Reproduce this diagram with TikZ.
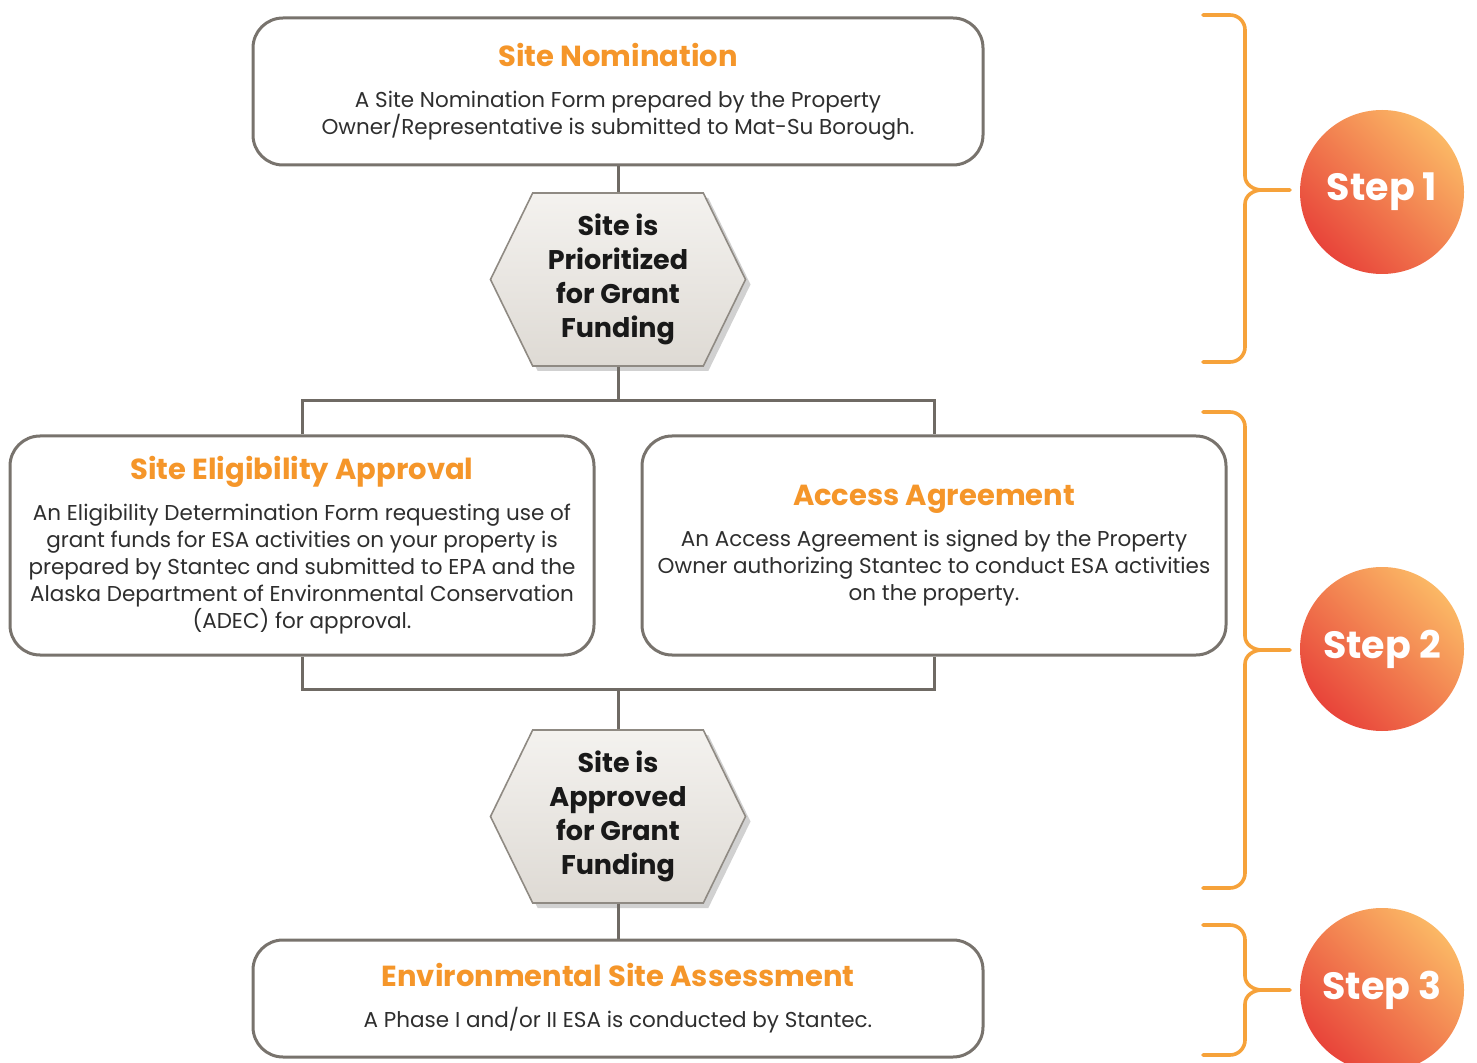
\documentclass[tikz,border=0pt]{standalone}
\usepackage{fontspec}
\setmainfont{Poppins}
\usetikzlibrary{positioning,shapes.symbols,shadows}
\definecolor{ttlorange}{HTML}{F5962A}
\definecolor{braceorange}{HTML}{F6A23A}
\definecolor{boxgray}{HTML}{78736D}
\definecolor{linegray}{HTML}{6F6A64}
\definecolor{bodytext}{HTML}{2E2E2E}
\definecolor{hexedge}{HTML}{8F8A83}
\definecolor{hextop}{HTML}{F4F2EF}
\definecolor{hexbot}{HTML}{DEDAD4}
\definecolor{steplight}{HTML}{FBB865}
\definecolor{stepdark}{HTML}{E8443A}
\newcommand{\stagetitle}[1]{{\fontsize{14.5}{17}\selectfont\bfseries\color{ttlorange}#1}}

\begin{document}
\begin{tikzpicture}[
    x=0.5pt, y=-0.5pt,
    stage/.style={draw=boxgray, line width=1.5pt, rounded corners=15pt, fill=white, align=center, inner sep=4pt, text=bodytext, font=\fontsize{10.75}{13.5}\selectfont},
    gate/.style={signal, signal to=east and west, signal pointer angle=128, draw=hexedge, line width=0.8pt, top color=hextop, bottom color=hexbot, minimum width=127.5pt, minimum height=86.5pt, inner sep=0pt, align=center, text=black!90, font=\fontsize{13.5}{17}\selectfont\bfseries, drop shadow={shadow xshift=2.5pt, shadow yshift=-2.5pt, opacity=0.3, fill=black!60}},
    link/.style={draw=linegray, line width=1.5pt},
    brc/.style={draw=braceorange, line width=1.8pt, line cap=round},
    stepdot/.style={circle, minimum size=82pt, inner sep=0pt, top color=steplight, bottom color=stepdark, shading angle=-45, text=white, font=\fontsize{19}{22}\selectfont\bfseries},
  ]
    \useasboundingbox (0,0) rectangle (1477,1063);
    \node[stage, minimum width=365pt, minimum height=73.5pt] (nom) at (618,91.5) {\stagetitle{Site Nomination}\\[7pt]A Site Nomination Form prepared by the Property\\Owner/Representative is submitted to Mat-Su Borough.};
    \node[gate] (gateA) at (618,279.5) {Site is\\Prioritized\\for Grant\\Funding};
    \node[stage, minimum width=292pt, minimum height=109.5pt] (elig) at (302,545.5) {\stagetitle{Site Eligibility Approval}\\[7pt]An Eligibility Determination Form requesting use of\\grant funds for ESA activities on your property is\\prepared by Stantec and submitted to EPA and the\\Alaska Department of Environmental Conservation\\(ADEC) for approval.};
    \node[stage, minimum width=292pt, minimum height=109.5pt] (access) at (934,545.5) {\stagetitle{Access Agreement}\\[7pt]An Access Agreement is signed by the Property\\Owner authorizing Stantec to conduct ESA activities\\on the property.};
    \node[gate] (gateB) at (618,816.5) {Site is\\Approved\\for Grant\\Funding};
    \node[stage, minimum width=365pt, minimum height=58.5pt] (esa) at (618,998.5) {\stagetitle{Environmental Site Assessment}\\[7pt]A Phase I and/or II ESA is conducted by Stantec.};
    \draw[link] (nom.south) -- (gateA.north);
    \draw[link] (gateA.south) -- ++(0,34) coordinate (splitA);
    \draw[link] (elig.north) |- (splitA) -| (access.north);
    \draw[link] (gateB.north) -- ++(0,-40) coordinate (joinB);
    \draw[link] (elig.south) |- (joinB) -| (access.south);
    \draw[link] (gateB.south) -- (esa.north);
    \foreach \t/\m/\b in {15/190/362, 412/650/888, 925/990/1055}
      \draw[brc] (1203,\t) -- (1230,\t) to[out=0,in=90] (1245,\t+15) -- (1245,\m-14) to[out=-90,in=180] (1262,\m) -- (1290,\m)
        (1262,\m) to[out=180,in=90] (1245,\m+14) -- (1245,\b-15) to[out=-90,in=0] (1230,\b) -- (1203,\b);
    \node[stepdot] (step1) at (1382,192) {Step 1};
    \node[stepdot] (step2) at (1382,649) {Step 2};
    \node[stepdot] (step3) at (1382,990) {Step 3};
  \end{tikzpicture}
\end{document}
